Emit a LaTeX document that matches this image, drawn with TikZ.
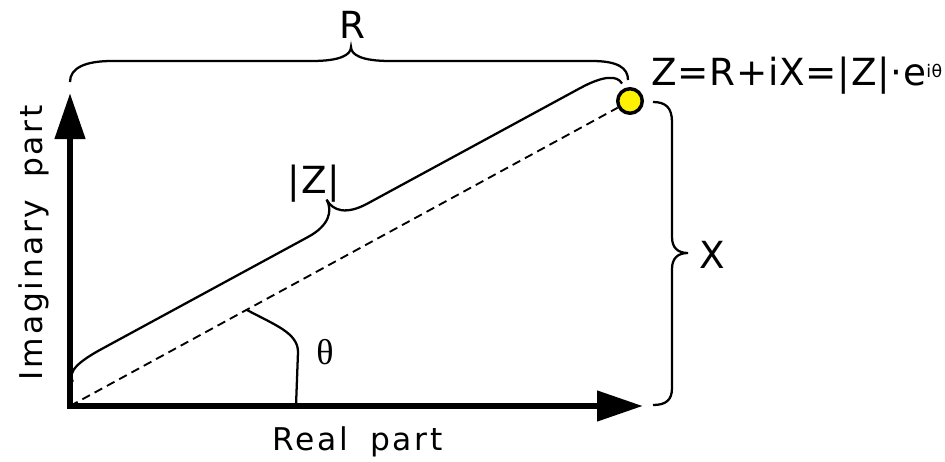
\documentclass[tikz,border=0pt]{standalone}
\usepackage{fontspec}
\setmainfont{DejaVu Sans}
\newfontfamily\biglab[LetterSpace=2]{DejaVu Sans}
\newfontfamily\axlab[LetterSpace=9,WordSpace=1.7]{DejaVu Sans}
\newfontfamily\serifgr{Liberation Serif}
\usetikzlibrary{arrows.meta}
\begin{document}
\begin{tikzpicture}[x=0.75pt,y=-0.75pt,
  axis/.style={line width=4.9pt, line cap=rect, -{Triangle[length=34.5pt,width=22pt]}},
  bracepath/.style={line width=1.7pt},
  biglabel/.style={font=\biglab\fontsize{28}{30}\selectfont, inner sep=0pt},
  axislabel/.style={font=\axlab\fontsize{23.5}{26}\selectfont, inner sep=0pt},
  pointdot/.style={circle, draw, fill=yellow, line width=2.6pt, minimum size=18.4pt, inner sep=0pt},
  dashline/.style={line width=1.4pt, dash pattern=on 6.5pt off 4pt},
  ]
\useasboundingbox (0,0) rectangle (945,461);
\coordinate (O) at (70,406);
\coordinate (ytop) at (70,93);
\coordinate (xtop) at (643,406);
\node[pointdot] (Z) at (630,101) {};

% dashed radius
\draw[dashline] (O) -- (Z);

% axes
\draw[axis] (O) -- (ytop);
\draw[axis] (O) -- (xtop);

% R brace
\draw[bracepath] (70,82) .. controls (70,68) and (85,61) .. (112,61) -- (312,61)
  .. controls (340,61) and (351,55) .. (351,47)
  .. controls (351,55) and (362,61) .. (390,61) -- (592,61)
  .. controls (618,61) and (628,68) .. (628,80);
\node[biglabel, anchor=base] (Rl) at (352,38) {R};

% X brace
\draw[bracepath] (653,102) .. controls (666,102) and (672,108) .. (672,122) -- (672,237)
  .. controls (672,248) and (678,253) .. (688,253)
  .. controls (678,253) and (672,258) .. (672,269) -- (672,388)
  .. controls (672,400) and (666,405) .. (653,405);
\node[biglabel, anchor=base] (Xl) at (712,268) {X};

% |Z| brace (in frame along the radius)
\begin{scope}[shift={(O)}, x={(0.6591pt,0.3578pt)}, y={(-0.3578pt,0.6591pt)}]
\draw[bracepath] (14,20) .. controls (14,32) and (30,35) .. (56,35) -- (290,35)
  .. controls (314,35) and (324,46) .. (324,59)
  .. controls (324,46) and (334,36) .. (358,36) -- (600,36)
  .. controls (626,36) and (639,30) .. (639,20);
\end{scope}
\node[biglabel, anchor=base] (Zl) at (314,193) {|Z|};

% angle
\draw[bracepath] (296,406) -- (298,352) .. controls (298,333) and (275,325) .. (247,310);
\node[font=\serifgr\fontsize{27}{30}\selectfont, inner sep=0pt] (th) at (325,352) {θ};

% formula
\node[biglabel, anchor=base west] (F) at (651,85) {Z=R+iX=|Z|·e\raisebox{6pt}{\fontsize{13}{14}\selectfont iθ}};

% axis labels
\node[axislabel, anchor=base west] (re) at (272,450) {Real part};
\node[axislabel, rotate=90, anchor=base east] (im) at (42,105) {Imaginary part};
\end{tikzpicture}
\end{document}
